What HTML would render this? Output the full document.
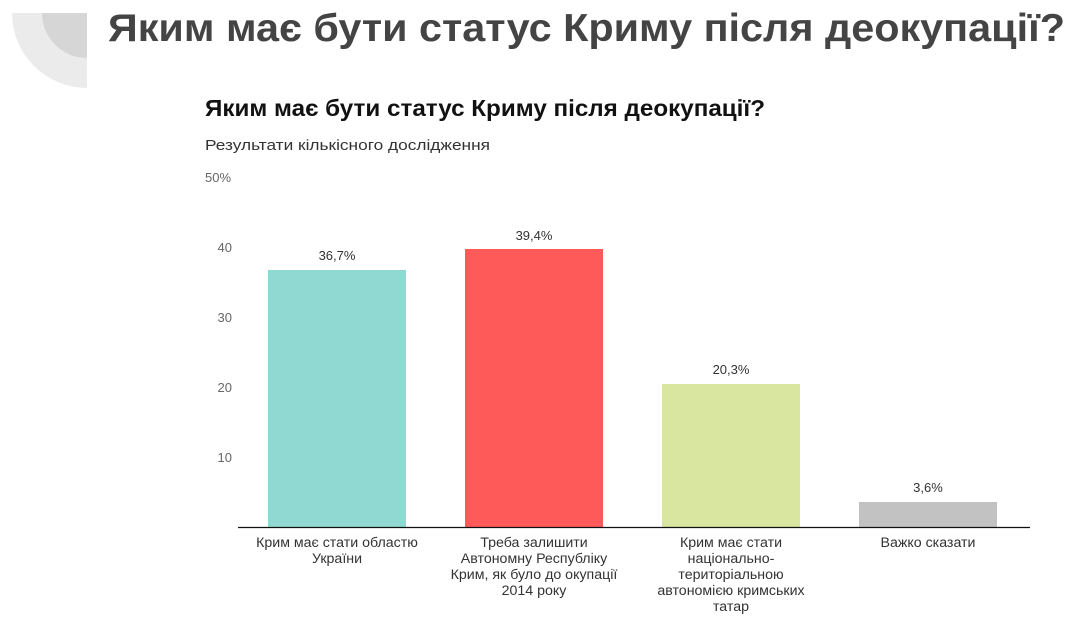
<!DOCTYPE html>
<html><head><meta charset="utf-8"><style>
html,body{margin:0;padding:0;background:#fff;}
svg{display:block;font-family:"Liberation Sans",sans-serif;}
</style></head><body>
<svg width="1080" height="624" viewBox="0 0 1080 624" xmlns="http://www.w3.org/2000/svg">
<path d="M12 13 L87 13 L87 88 A75 75 0 0 1 12 13 Z" fill="#ebebeb"/>
<path d="M42 13 L87 13 L87 58 A45 45 0 0 1 42 13 Z" fill="#d6d6d6"/>
<text x="108" y="41" font-size="39" font-weight="bold" fill="#444" textLength="957" lengthAdjust="spacingAndGlyphs">Яким має бути статус Криму після деокупації?</text>
<text x="205" y="116" font-size="23" font-weight="bold" fill="#111" textLength="560" lengthAdjust="spacingAndGlyphs">Яким має бути статус Криму після деокупації?</text>
<text x="205" y="150" font-size="15" fill="#333" textLength="285" lengthAdjust="spacingAndGlyphs">Результати кількісного дослідження</text>
<g font-size="13" fill="#666">
<text x="205" y="182">50%</text>
<text x="232" y="252" text-anchor="end">40</text>
<text x="232" y="322" text-anchor="end">30</text>
<text x="232" y="392" text-anchor="end">20</text>
<text x="232" y="462" text-anchor="end">10</text>
</g>
<rect x="268" y="270" width="138" height="257" fill="#8fd9d2"/>
<rect x="465" y="249" width="138" height="278" fill="#fe5a59"/>
<rect x="662" y="384" width="138" height="143" fill="#d9e6a0"/>
<rect x="859" y="502" width="138" height="25" fill="#c2c2c2"/>
<line x1="238" y1="527.5" x2="1030" y2="527.5" stroke="#111" stroke-width="1.2"/>
<g font-size="13" fill="#333" text-anchor="middle">
<text x="337" y="260">36,7%</text>
<text x="534" y="240">39,4%</text>
<text x="731" y="374">20,3%</text>
<text x="928" y="492">3,6%</text>
</g>
<g font-size="14.2" fill="#333" text-anchor="middle">
<text x="337" y="547">Крим має стати областю</text>
<text x="337" y="563">України</text>
<text x="534" y="547">Треба залишити</text>
<text x="534" y="563">Автономну Республіку</text>
<text x="534" y="579">Крим, як було до окупації</text>
<text x="534" y="595">2014 року</text>
<text x="731" y="547">Крим має стати</text>
<text x="731" y="563">національно-</text>
<text x="731" y="579">територіальною</text>
<text x="731" y="595">автономією кримських</text>
<text x="731" y="611">татар</text>
<text x="928" y="547">Важко сказати</text>
</g>
</svg>
</body></html>
